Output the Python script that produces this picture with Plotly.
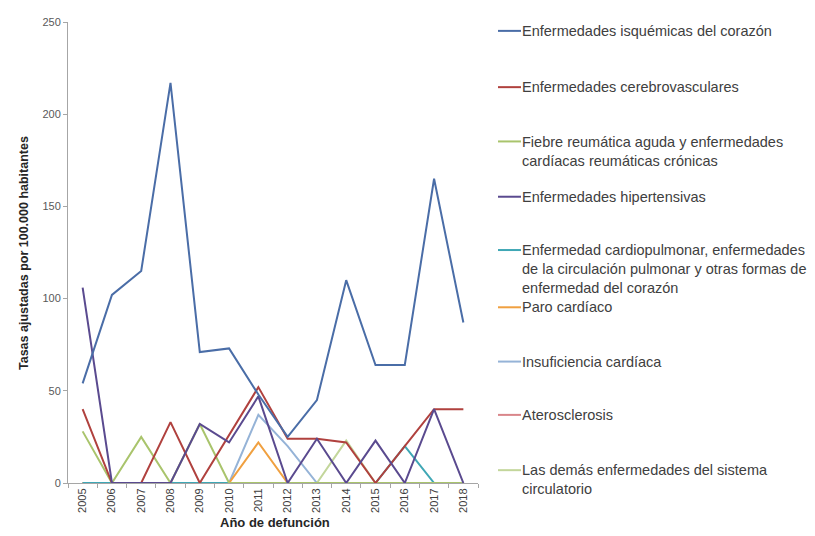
import plotly.graph_objects as go

years = [str(y) for y in range(2005, 2019)]

isquemicas = [54, 102, 115, 217, 71, 73, 48, 25, 45, 110, 64, 64, 165, 87]
cerebrovasculares = [40, 0, 0, 33, 0, 26, 52, 24, 24, 22, 0, 20, 40, 40]
fiebre_reumatica = [28, 0, 25, 0, 32, 0, 0, 0, 0, 0, 0, 0, 0, 0]
hipertensivas = [106, 0, 0, 0, 32, 22, 47, 0, 24, 0, 23, 0, 40, 0]
cardiopulmonar = [0, 0, 0, 0, 0, 0, 0, 0, 0, 0, 0, 20, 0, 0]
paro_cardiaco = [0, 0, 0, 0, 0, 0, 22, 0, 0, 0, 0, 0, 0, 0]
insuficiencia = [0, 0, 0, 0, 0, 0, 37, 20, 0, 0, 0, 0, 0, 0]
aterosclerosis = [0, 0, 0, 0, 0, 0, 0, 0, 0, 0, 0, 0, 0, 0]
demas = [0, 0, 0, 0, 0, 0, 0, 0, 0, 23, 0, 0, 0, 0]

series_names = [
    "Enfermedades isquémicas del corazón",
    "Enfermedades cerebrovasculares",
    "Fiebre reumática aguda y enfermedades<br>cardíacas reumáticas crónicas",
    "Enfermedades hipertensivas",
    "Enfermedad cardiopulmonar, enfermedades<br>de la circulación pulmonar y otras formas de<br>enfermedad del corazón",
    "Paro cardíaco",
    "Insuficiencia cardíaca",
    "Aterosclerosis",
    "Las demás enfermedades del sistema<br>circulatorio",
]
series_values = [isquemicas, cerebrovasculares, fiebre_reumatica, hipertensivas,
                 cardiopulmonar, paro_cardiaco, insuficiencia, aterosclerosis, demas]
colors = ["#4A6DA7", "#B0413E", "#A9C46C", "#5A4A8F", "#3FA7B5",
          "#F0A040", "#95B3D7", "#D9868A", "#C3D69B"]

# draw order: background series first, main series last
order = [8, 7, 6, 5, 4, 2, 1, 3, 0]

fig = go.Figure()
for i in order:
    fig.add_trace(go.Scatter(
        x=years, y=series_values[i], mode="lines",
        line=dict(color=colors[i], width=2),
        name=series_names[i].replace("<br>", " "), showlegend=False,
    ))

# page has an 8px body margin; work in window pixels and shift
OFF = 8
W, H = 815 - OFF, 536 - OFF
L, R, T, B = 68 - OFF, 478 - OFF, 16 - OFF, 483 - OFF

def px_x(p):
    return (p - OFF - L) / (R - L)

def px_y(p):
    return (B - (p - OFF)) / (B - T)

FONT = "Liberation Sans, Arial, sans-serif"
legend_y = [25, 82, 137, 193, 247, 305, 360, 414, 470]
shapes = []
annotations = []
for i, name in enumerate(series_names):
    yy = legend_y[i]
    shapes.append(dict(type="line", xref="paper", yref="paper",
                       x0=px_x(498), x1=px_x(521), y0=px_y(yy), y1=px_y(yy),
                       line=dict(color=colors[i], width=2)))
    annotations.append(dict(xref="paper", yref="paper", x=px_x(520), y=px_y(yy - 10),
                            xanchor="left", yanchor="top", align="left",
                            text=name, showarrow=False,
                            font=dict(family=FONT, size=14.5, color="#404040")))

annotations.append(dict(xref="paper", yref="paper", x=px_x(24), y=px_y(250),
                        xanchor="center", yanchor="middle", textangle=-90,
                        text="<b>Tasas ajustadas por 100.000 habitantes</b>",
                        showarrow=False,
                        font=dict(family=FONT, size=12.5, color="#262626")))
annotations.append(dict(xref="paper", yref="paper", x=px_x(275), y=px_y(523),
                        xanchor="center", yanchor="middle",
                        text="<b>Año de defunción</b>", showarrow=False,
                        font=dict(family=FONT, size=13, color="#262626")))

fig.update_layout(
    width=W, height=H,
    margin=dict(l=L, r=W - R, t=T, b=H - B),
    paper_bgcolor="white", plot_bgcolor="white",
    shapes=shapes, annotations=annotations,
    showlegend=False,
    xaxis=dict(type="category", range=[-0.5, 13.5], showgrid=False, showline=True,
               linecolor="#A6A6A6", linewidth=1,
               ticks="outside", ticklen=4, tickcolor="#A6A6A6",
               tickson="boundaries", tickangle=-90,
               tickfont=dict(family=FONT, size=11, color="#404040"),
               zeroline=False),
    yaxis=dict(range=[0, 250], dtick=50, showgrid=False, showline=True,
               linecolor="#A6A6A6", linewidth=1,
               ticks="outside", ticklen=4, tickcolor="#A6A6A6",
               tickfont=dict(family=FONT, size=11, color="#595959"),
               zeroline=False),
)

fig.write_html("out.html")
